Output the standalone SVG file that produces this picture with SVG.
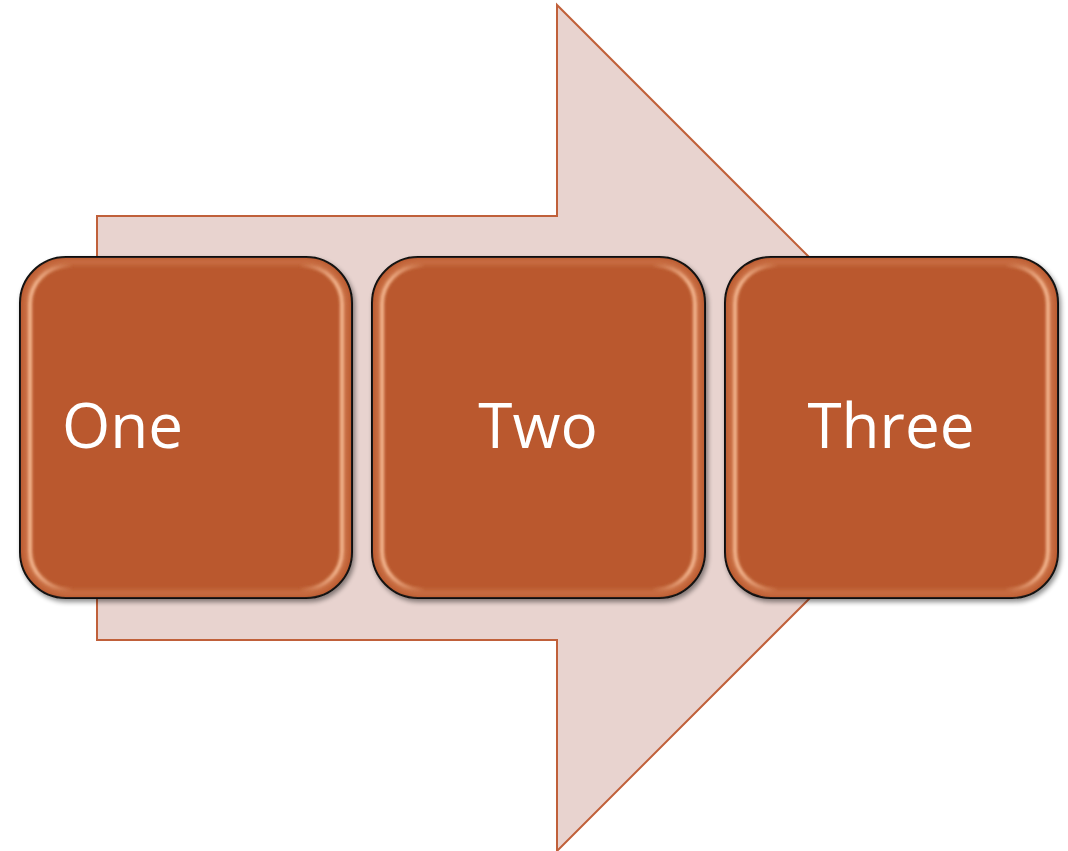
<svg xmlns="http://www.w3.org/2000/svg" width="1068" height="851" viewBox="0 0 1068 851">
  <style>
    .arrow { fill: #E8D3CF; stroke: #C0603A; stroke-width: 2; }
    .box { fill: #BA592E; stroke: #111; stroke-width: 2; }
    .glow { fill: none; stroke: #F8BE98; stroke-width: 4; }
    .topglow { fill: none; stroke: #D9865C; stroke-width: 5; opacity: 0.6; }
    .lbl { font-family: "Open Sans", "Noto Sans", sans-serif; font-size: 62px; fill: #FFFFFF; }
  </style>
  <defs>
    <filter id="shadow" x="-10%" y="-10%" width="125%" height="125%">
      <feGaussianBlur in="SourceAlpha" stdDeviation="2.5"/>
      <feOffset dx="2" dy="3" result="b"/>
      <feComponentTransfer><feFuncA type="linear" slope="0.45"/></feComponentTransfer>
      <feMerge><feMergeNode/><feMergeNode in="SourceGraphic"/></feMerge>
    </filter>
    <filter id="soft" x="-5%" y="-5%" width="110%" height="110%">
      <feGaussianBlur stdDeviation="1.5"/>
    </filter>
    <filter id="softer" x="-5%" y="-5%" width="110%" height="110%">
      <feGaussianBlur stdDeviation="2.5"/>
    </filter>
    <linearGradient id="sideFade" x1="0" y1="0" x2="1" y2="0">
      <stop offset="0" stop-color="#fff" stop-opacity="1"/>
      <stop offset="0.1" stop-color="#fff" stop-opacity="0.9"/>
      <stop offset="0.2" stop-color="#fff" stop-opacity="0"/>
      <stop offset="0.8" stop-color="#fff" stop-opacity="0"/>
      <stop offset="0.9" stop-color="#fff" stop-opacity="0.9"/>
      <stop offset="1" stop-color="#fff" stop-opacity="1"/>
    </linearGradient>
    <linearGradient id="vertFade" x1="0" y1="0" x2="0" y2="1">
      <stop offset="0" stop-color="#fff" stop-opacity="0.7"/>
      <stop offset="0.08" stop-color="#fff" stop-opacity="1"/>
      <stop offset="0.92" stop-color="#fff" stop-opacity="1"/>
      <stop offset="1" stop-color="#fff" stop-opacity="0.7"/>
    </linearGradient>
    <mask id="sides" maskContentUnits="objectBoundingBox" x="-0.1" y="-0.1" width="1.2" height="1.2">
      <rect x="-0.1" y="-0.1" width="1.2" height="1.2" fill="url(#sideFade)"/>
    </mask>
    <clipPath id="c1"><rect x="20" y="257" width="332" height="341" rx="46" ry="46"/></clipPath>
    <clipPath id="c2"><rect x="372" y="257" width="333" height="341" rx="46" ry="46"/></clipPath>
    <clipPath id="c3"><rect x="725" y="257" width="333" height="341" rx="46" ry="46"/></clipPath>
  </defs>

  <g id="connectors">
    <polygon id="bigArrow" class="arrow" points="97,216 557,216 557,5 980,428 557,851 557,640 97,640"/>
  </g>

  <g id="node-one" filter="url(#shadow)">
    <rect class="box" x="20" y="257" width="332" height="341" rx="46" ry="46"/>
    <rect class="topglow" x="26" y="262" width="320" height="331" rx="42" ry="42" filter="url(#softer)" clip-path="url(#c1)"/>
    <g mask="url(#sides)"><rect class="glow" x="30" y="266" width="312" height="323" rx="38" ry="38" filter="url(#soft)"/></g>
    <text class="lbl" x="62" y="448">One</text>
  </g>

  <g id="node-two" filter="url(#shadow)">
    <rect class="box" x="372" y="257" width="333" height="341" rx="46" ry="46"/>
    <rect class="topglow" x="378" y="262" width="321" height="331" rx="42" ry="42" filter="url(#softer)" clip-path="url(#c2)"/>
    <g mask="url(#sides)"><rect class="glow" x="382" y="266" width="313" height="323" rx="38" ry="38" filter="url(#soft)"/></g>
    <text class="lbl" x="538" y="448" text-anchor="middle">Two</text>
  </g>

  <g id="node-three" filter="url(#shadow)">
    <rect class="box" x="725" y="257" width="333" height="341" rx="46" ry="46"/>
    <rect class="topglow" x="731" y="262" width="321" height="331" rx="42" ry="42" filter="url(#softer)" clip-path="url(#c3)"/>
    <g mask="url(#sides)"><rect class="glow" x="735" y="266" width="313" height="323" rx="38" ry="38" filter="url(#soft)"/></g>
    <text class="lbl" x="891" y="448" text-anchor="middle">Three</text>
  </g>
</svg>
